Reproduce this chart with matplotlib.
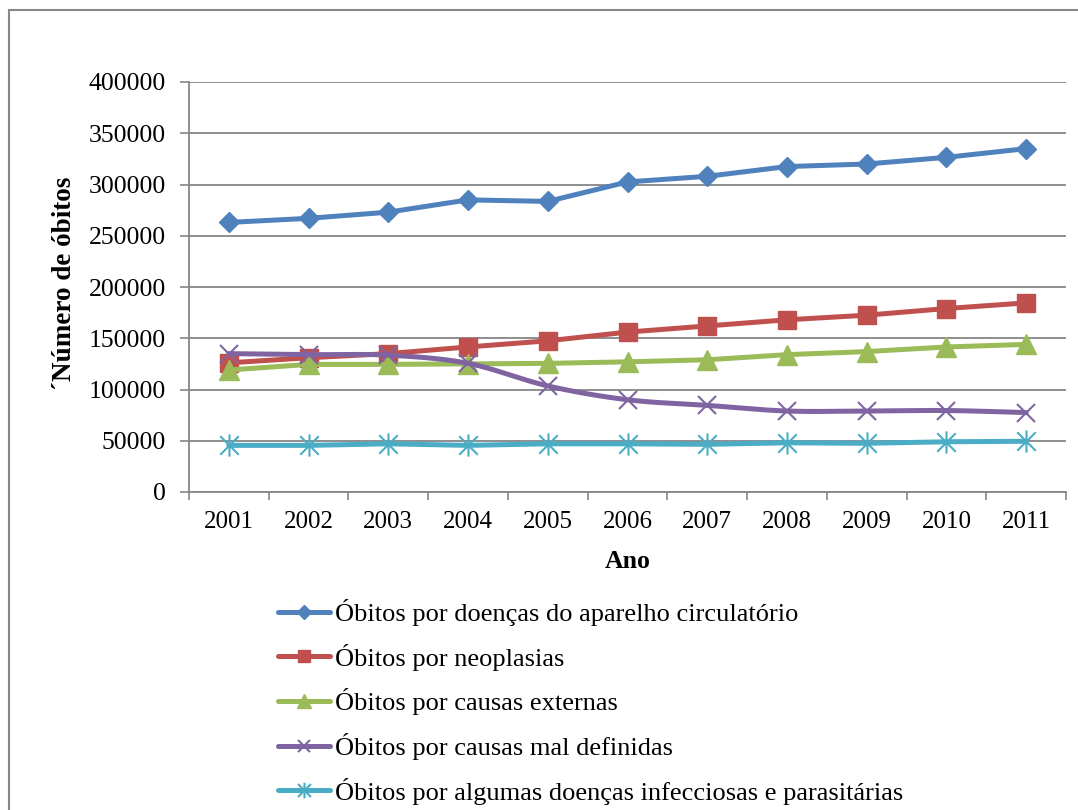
import numpy as np
import matplotlib
matplotlib.use('Agg')
import matplotlib.pyplot as plt
from matplotlib.path import Path
from matplotlib.patches import Rectangle

plt.rcParams['font.family'] = ['Liberation Serif', 'DejaVu Serif']

anos = ['2001', '2002', '2003', '2004', '2005', '2006', '2007', '2008', '2009', '2010', '2011']

circulatorio = [263000, 267000, 273000, 285000, 283500, 302500, 308000, 317500, 320000, 326500, 335000]
neoplasias = [126000, 131000, 135000, 141500, 147500, 156000, 162000, 168000, 172500, 179000, 184500]
externas = [119000, 124500, 124500, 125000, 125500, 127000, 129000, 134000, 137000, 141500, 144000]
mal_definidas = [135000, 134000, 133500, 125500, 103500, 90000, 84500, 79000, 79000, 79500, 77500]
infecciosas = [45500, 45500, 47000, 45500, 47000, 47000, 46500, 48000, 47500, 49000, 49500]

legendas = ['Óbitos por doenças do aparelho circulatório',
            'Óbitos por neoplasias',
            'Óbitos por causas externas',
            'Óbitos por causas mal definidas',
            'Óbitos por algumas doenças infecciosas e parasitárias']

cinza = '#868686'

# marcador asterisco (x com traço vertical)
asterisco = Path([(-0.5, -0.5), (0.5, 0.5), (-0.5, 0.5), (0.5, -0.5), (0, -0.6), (0, 0.6)],
                 [Path.MOVETO, Path.LINETO, Path.MOVETO, Path.LINETO, Path.MOVETO, Path.LINETO])


def suavizar(y, n=20):
    # curva cúbica de Hermite (tipo Catmull-Rom) entre os pontos
    y = np.asarray(y, dtype=float)
    m = np.gradient(y)
    xs, ys = [], []
    for i in range(len(y) - 1):
        t = np.linspace(0, 1, n, endpoint=False)
        h00 = 2 * t**3 - 3 * t**2 + 1
        h10 = t**3 - 2 * t**2 + t
        h01 = -2 * t**3 + 3 * t**2
        h11 = t**3 - t**2
        xs.extend(i + t)
        ys.extend(h00 * y[i] + h10 * m[i] + h01 * y[i + 1] + h11 * m[i + 1])
    xs.append(len(y) - 1)
    ys.append(y[-1])
    return np.array(xs), np.array(ys)


fig = plt.figure(figsize=(10.78, 8.10), dpi=100)
ax = fig.add_axes([189 / 1078, 1 - 492 / 810, 877 / 1078, 410 / 810])

x = np.arange(len(anos))

series = [
    (circulatorio, '#4F81BD', dict(marker='D', ms=10)),
    (neoplasias, '#C0504D', dict(marker='s', ms=13)),
    (externas, '#9BBB59', dict(marker='^', ms=14)),
    (mal_definidas, '#8064A2', dict(marker='x', ms=13, mew=1.5)),
    (infecciosas, '#4BACC6', dict(marker=asterisco, ms=16, mew=1.5, mfc='none')),
]

handles = []
for i, (vals, cor, mk) in enumerate(series):
    if i == 3:
        xs, ys = suavizar(vals)
        ax.plot(xs, ys, color=cor, lw=3.6, solid_capstyle='round', zorder=3)
        ax.plot(x, vals, ls='none', color=cor, zorder=4, **mk)
    else:
        ax.plot(x, vals, color=cor, lw=3.6, solid_capstyle='round', zorder=3, **mk)
    h, = ax.plot([], [], color=cor, lw=3.6, solid_capstyle='round', **mk)
    handles.append(h)

ax.set_xlim(-0.5, len(anos) - 0.5)
ax.set_ylim(0, 400000)
ax.set_yticks(np.arange(0, 400001, 50000))
ax.set_xticks(x)
ax.set_xticklabels(anos)
ax.set_xticks(np.arange(-0.5, len(anos), 1), minor=True)

ax.tick_params(axis='x', which='major', length=0, pad=14, labelsize=18)
ax.tick_params(axis='x', which='minor', length=6, width=1.2, color=cinza, direction='out')
ax.tick_params(axis='y', length=6.5, width=1.2, color=cinza, direction='out', pad=10, labelsize=18.5)

ax.grid(axis='y', color=cinza, lw=1.3)
ax.set_axisbelow(True)
for lado in ['top', 'right']:
    ax.spines[lado].set_visible(False)
for lado in ['left', 'bottom']:
    ax.spines[lado].set_color(cinza)
    ax.spines[lado].set_linewidth(1.3)

ax.set_ylabel('\u00b4Número de óbitos', fontsize=19.5, fontweight='bold')
ax.yaxis.set_label_coords(-0.128, 0.51)
ax.set_xlabel('Ano', fontsize=18.5, fontweight='bold', va='center')
ax.xaxis.set_label_coords(0.5, -70 / 410)

fig.legend(handles, legendas, loc='upper left', bbox_to_anchor=(278 / 1078, 1 - 599 / 810),
           frameon=False, fontsize=19, handlelength=1.97, handletextpad=0.2,
           labelspacing=0.67, borderpad=0, borderaxespad=0, markerscale=0.7)

# moldura externa
fig.patches.append(Rectangle((9 / 1078, -0.1), 1.2, 1.1 - 10 / 810, transform=fig.transFigure,
                             fill=False, edgecolor=cinza, lw=1.5))

fig.savefig('out.png', dpi=100)
